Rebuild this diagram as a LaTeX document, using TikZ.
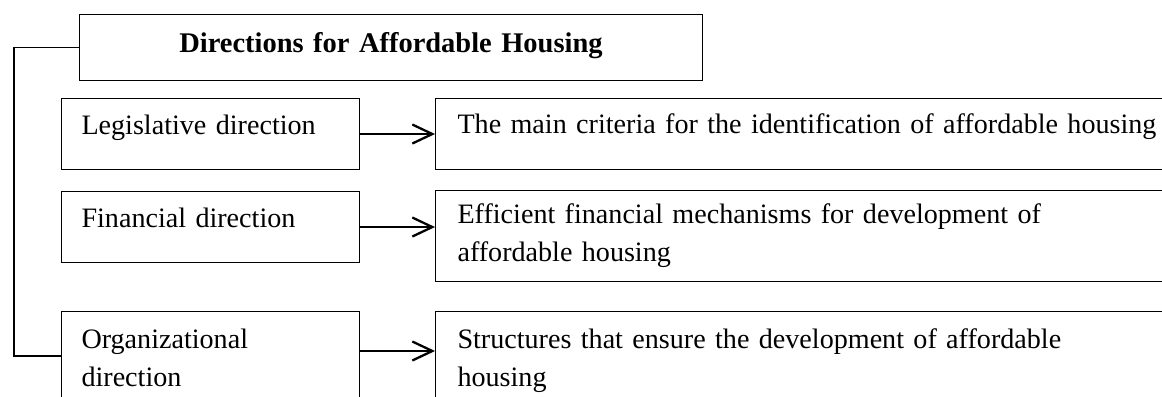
\documentclass[tikz,border=0pt]{standalone}
\usepackage{fontspec}
\setmainfont{Liberation Serif}
\usetikzlibrary{positioning, arrows.meta}

\tikzset{
  box/.style={draw, line width=0.6pt, anchor=north west, align=left, inner xsep=0.4cm, inner ysep=0pt,
    text height=0.72cm, font=\fontsize{16pt}{21.6pt}\selectfont},
  leftbox/.style={box, text width=5.16cm, text depth=0.70cm},
  rightbox/.style={box, inner xsep=0.44cm, text width=15cm},
  conn/.style={line width=1.3pt, -{Straight Barb[length=0.4cm, width=0.38cm]}},
}

\begin{document}
\begin{tikzpicture}[x=0.02cm, y=-0.02cm]
        \useasboundingbox (0,0) rectangle (1162,396);
        \clip (0,0) rectangle (1162,396);

        % Blocks
        \node[box, align=center, inner xsep=0pt, text width=12.46cm, text height=0.76cm, text depth=0.56cm,
          font=\fontsize{16.2pt}{21.6pt}\selectfont\bfseries] (title) at (79,14) {Directions for Affordable Housing};
        \node[leftbox] (legis) at (61,98) {Legislative direction};
        \node[leftbox] (fin) at (61,191) {Financial direction};
        \node[leftbox, text height=0.74cm, text depth=1.26cm] (org) at (61,311) {Organizational\\direction};

        \node[rightbox, text height=0.70cm, text depth=0.72cm] (legiscrit) at (435,98) {The main criteria for the identification of affordable housing};
        \node[rightbox, text height=0.66cm, text depth=1.16cm] (finmech) at (435,190) {Efficient financial mechanisms for development of\\affordable housing};
        \node[rightbox, text height=0.74cm, text depth=1.26cm] (orgstruct) at (435,311) {Structures that ensure the development of affordable\\housing};

        % Bracket
        \coordinate (orgin) at ([yshift=-0.9cm]org.north west);
        \draw[line width=0.9pt] (title.west) -- ++(-65,0) |- (orgin);

        % Arrows
        \coordinate (orgout) at ([yshift=-0.8cm]org.north east);
        \draw[conn] (legis.east) -- (legis.east -| legiscrit.west);
        \draw[conn] (fin.east) -- (fin.east -| finmech.west);
        \draw[conn] (orgout) -- (orgout -| orgstruct.west);
    \end{tikzpicture}
\end{document}
